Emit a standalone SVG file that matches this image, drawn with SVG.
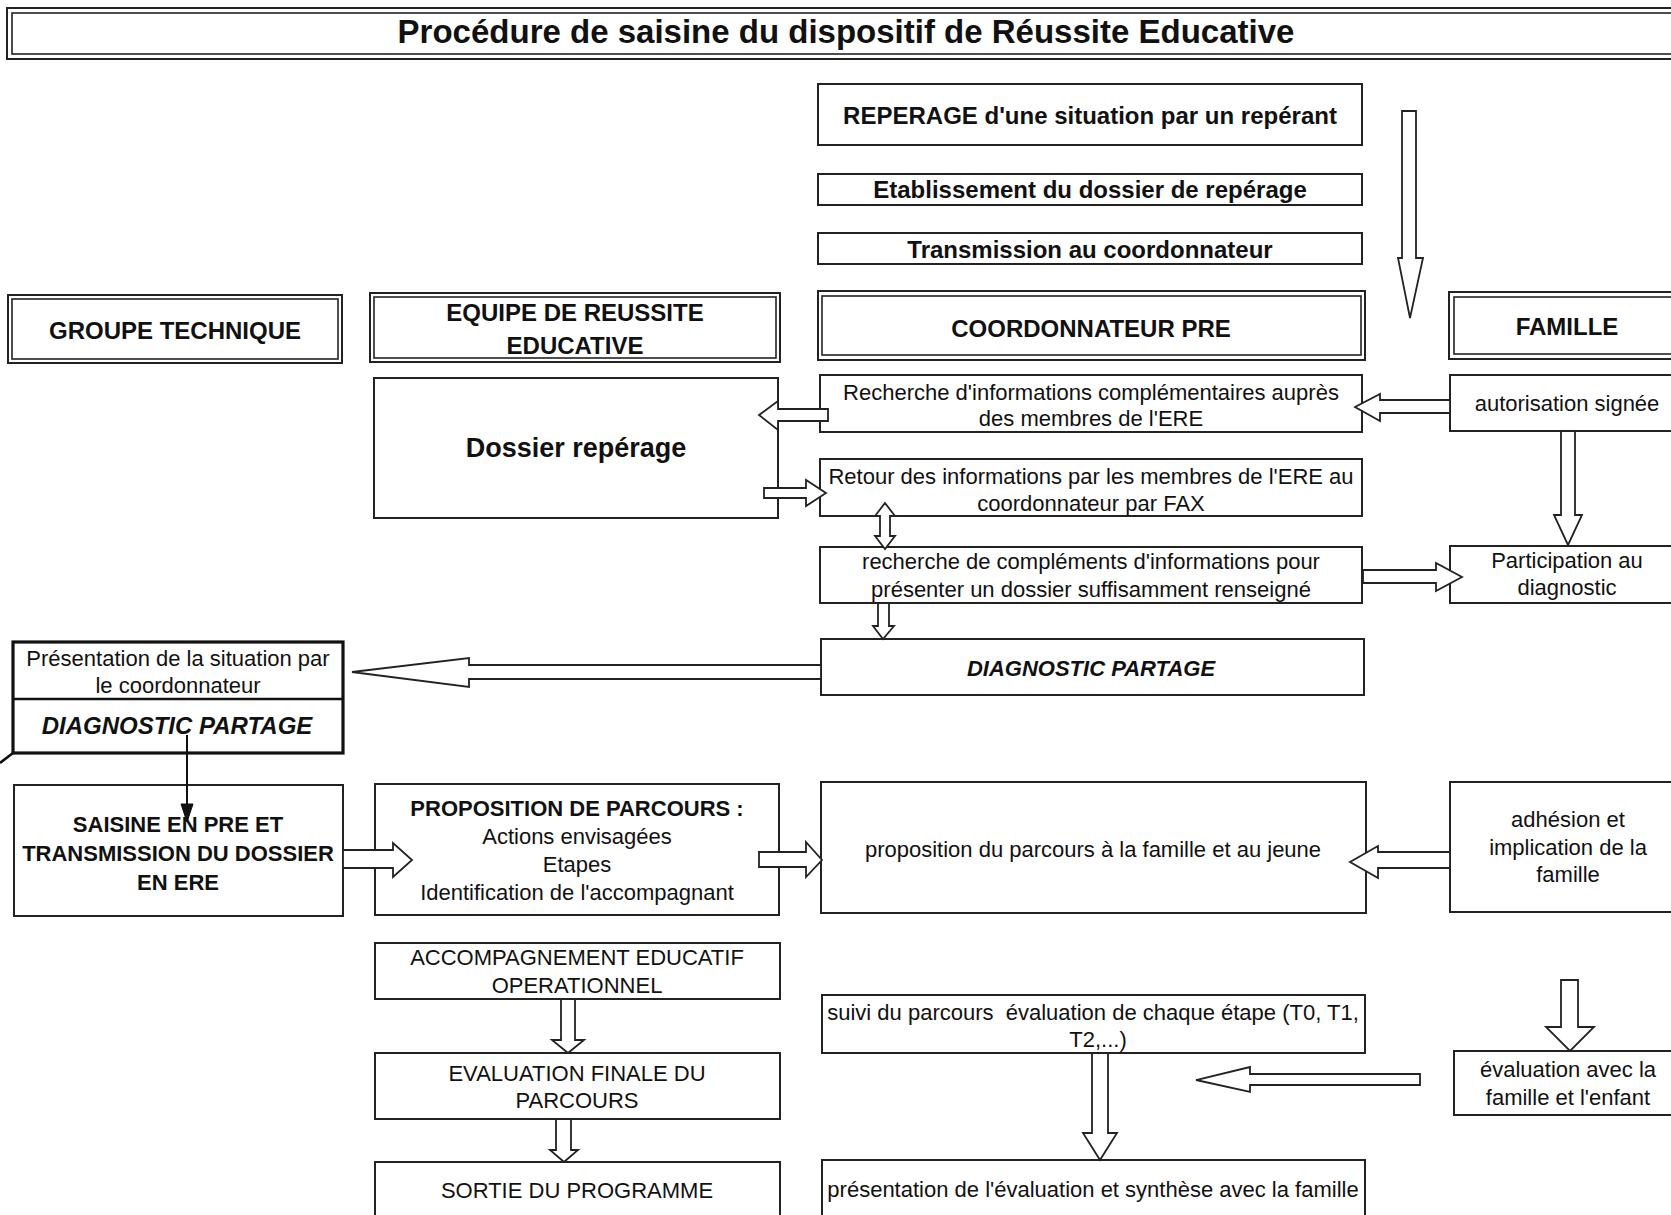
<svg xmlns="http://www.w3.org/2000/svg" width="1671" height="1215" viewBox="0 0 1671 1215">
<style>
.box{fill:#fff;stroke:#222;stroke-width:2}
.in{fill:none;stroke:#222;stroke-width:1.6}
.thick{fill:#fff;stroke:#111;stroke-width:3.2}
.arr{fill:#fff;stroke:#222;stroke-width:1.8;stroke-linejoin:miter}
.head{fill:#111;stroke:#111;stroke-width:1}
text{font-family:"Liberation Sans",Arial,Helvetica,sans-serif;font-size:22px;fill:#111;text-anchor:middle}
.b{font-weight:bold;font-size:24px}
.s22{font-weight:bold;font-size:22px}
.i{font-style:italic}
.pre{white-space:pre}
</style>
<rect width="1671" height="1215" fill="#fff"/>

<g id="title">
<rect class="box" x="7" y="8" width="1700" height="51"/>
<rect class="in" x="12" y="13" width="1690" height="41"/>
<text x="846" y="43" style="font-size:33px;font-weight:bold">Procédure de saisine du dispositif de Réussite Educative</text>
</g>

<g id="reperage">
<rect class="box" x="818" y="84" width="544" height="61"/>
<text class="b" x="1090" y="124">REPERAGE d'une situation par un repérant</text>
</g>
<g id="etablissement">
<rect class="box" x="818" y="174" width="544" height="31"/>
<text class="b" x="1090" y="198">Etablissement du dossier de repérage</text>
</g>
<g id="transmission">
<rect class="box" x="818" y="233" width="544" height="31"/>
<text class="b" x="1090" y="258">Transmission au coordonnateur</text>
</g>

<g id="hdr-groupe">
<rect class="box" x="8" y="295" width="334" height="68"/>
<rect class="in" x="12" y="299" width="326" height="60"/>
<text class="b" x="175" y="339">GROUPE TECHNIQUE</text>
</g>
<g id="hdr-equipe">
<rect class="box" x="370" y="293" width="410" height="69"/>
<rect class="in" x="374" y="297" width="402" height="61"/>
<text class="b" x="575" y="321">EQUIPE DE REUSSITE</text>
<text class="b" x="575" y="354">EDUCATIVE</text>
</g>
<g id="hdr-coord">
<rect class="box" x="818" y="291" width="547" height="69"/>
<rect class="in" x="822" y="296" width="539" height="59"/>
<text class="b" x="1091" y="337">COORDONNATEUR PRE</text>
</g>
<g id="hdr-famille">
<rect class="box" x="1449" y="292" width="240" height="67"/>
<rect class="in" x="1454" y="297" width="230" height="57"/>
<text class="b" x="1567" y="335">FAMILLE</text>
</g>

<g id="dossier">
<rect class="box" x="374" y="378" width="404" height="140"/>
<text x="576" y="457" style="font-weight:bold;font-size:27px">Dossier repérage</text>
</g>
<g id="recherche">
<rect class="box" x="820" y="375" width="542" height="57"/>
<text x="1091" y="400">Recherche d'informations complémentaires auprès</text>
<text x="1091" y="426">des membres de l'ERE</text>
</g>
<g id="autorisation">
<rect class="box" x="1450" y="375" width="240" height="56"/>
<text x="1567" y="411">autorisation signée</text>
</g>
<g id="retour">
<rect class="box" x="820" y="459" width="542" height="57"/>
<text x="1091" y="484">Retour des informations par les membres de l'ERE au</text>
<text x="1091" y="511">coordonnateur par FAX</text>
</g>
<g id="complements">
<rect class="box" x="820" y="547" width="542" height="56"/>
<text x="1091" y="569">recherche de compléments d'informations pour</text>
<text x="1091" y="597">présenter un dossier suffisamment renseigné</text>
</g>
<g id="participation">
<rect class="box" x="1450" y="546" width="240" height="57"/>
<text x="1567" y="568">Participation au</text>
<text x="1567" y="595">diagnostic</text>
</g>
<g id="diag-coord">
<rect class="box" x="821" y="639" width="543" height="56"/>
<text class="s22 i" x="1091" y="676">DIAGNOSTIC PARTAGE</text>
</g>

<g id="presentation-gt">
<rect class="thick" x="13" y="642" width="330" height="111"/>
<line x1="13" y1="699" x2="343" y2="699" stroke="#111" stroke-width="2.4"/>
<line x1="13" y1="753" x2="0" y2="763" stroke="#111" stroke-width="2.6"/>
<text x="178" y="666">Présentation de la situation par</text>
<text x="178" y="693">le coordonnateur</text>
<text class="b i" x="177" y="734">DIAGNOSTIC PARTAGE</text>
</g>

<g id="saisine">
<rect class="box" x="14" y="785" width="329" height="131"/>
<text class="s22" x="178" y="832">SAISINE EN PRE ET</text>
<text class="s22" x="178" y="861">TRANSMISSION DU DOSSIER</text>
<text class="s22" x="178" y="890">EN ERE</text>
</g>
<g id="proposition">
<rect class="box" x="375" y="784" width="404" height="131"/>
<text class="s22" x="577" y="816">PROPOSITION DE PARCOURS :</text>
<text x="577" y="844">Actions envisagées</text>
<text x="577" y="872">Etapes</text>
<text x="577" y="900">Identification de l'accompagnant</text>
</g>
<g id="proposition-famille">
<rect class="box" x="821" y="782" width="545" height="131"/>
<text x="1093" y="857">proposition du parcours à la famille et au jeune</text>
</g>
<g id="adhesion">
<rect class="box" x="1450" y="782" width="240" height="130"/>
<text x="1568" y="827">adhésion et</text>
<text x="1568" y="855">implication de la</text>
<text x="1568" y="882">famille</text>
</g>

<g id="accompagnement">
<rect class="box" x="375" y="943" width="405" height="56"/>
<text x="577" y="965">ACCOMPAGNEMENT EDUCATIF</text>
<text x="577" y="993">OPERATIONNEL</text>
</g>
<g id="evaluation-finale">
<rect class="box" x="375" y="1053" width="405" height="66"/>
<text x="577" y="1081">EVALUATION FINALE DU</text>
<text x="577" y="1108">PARCOURS</text>
</g>
<g id="sortie">
<rect class="box" x="375" y="1162" width="405" height="70"/>
<text x="577" y="1198">SORTIE DU PROGRAMME</text>
</g>
<g id="suivi">
<rect class="box" x="822" y="995" width="543" height="58"/>
<text class="pre" x="1093" y="1020">suivi du parcours  évaluation de chaque étape (T0, T1,</text>
<text x="1098" y="1047">T2,...)</text>
</g>
<g id="presentation-eval">
<rect class="box" x="822" y="1160" width="543" height="70"/>
<text x="1093" y="1197">présentation de l'évaluation et synthèse avec la famille</text>
</g>
<g id="evaluation-famille">
<rect class="box" x="1454" y="1051" width="236" height="64"/>
<text x="1568" y="1077">évaluation  avec la</text>
<text x="1568" y="1105">famille et l'enfant</text>
</g>

<g id="connectors">
<polygon class="arr" points="1402,111 1416,111 1416,258 1423,258 1410,318 1398,258 1402,258"/>
<polygon class="arr" points="828,409 778,409 778,401 759,415 778,430 778,421 828,421"/>
<polygon class="arr" points="764,488 806,488 806,480 826,493 806,506 806,498 764,498"/>
<polygon class="arr" points="885,503 895,516 890,516 890,536 895,536 885,549 875,536 880,536 880,516 875,516"/>
<polygon class="arr" points="878,603 889,603 889,626 894,626 883,639 873,626 878,626"/>
<polygon class="arr" points="1363,570 1436,570 1436,563 1462,577 1436,591 1436,583 1363,583"/>
<polygon class="arr" points="1450,400 1380,400 1380,394 1355,407 1380,421 1380,413 1450,413"/>
<polygon class="arr" points="1561,431 1575,431 1575,515 1582,515 1568,545 1554,515 1561,515"/>
<polygon class="arr" points="821,665 469,665 469,658 352,672 469,687 469,679 821,679"/>
<line x1="187" y1="735" x2="187" y2="806" stroke="#111" stroke-width="2"/>
<polygon class="head" points="181,804 193,804 187,822"/>
<polygon class="arr" points="343,850 393,850 393,843 412,860 393,877 393,868 343,868"/>
<polygon class="arr" points="759,852 806,852 806,842 822,860 806,877 806,867 759,867"/>
<polygon class="arr" points="1450,852 1378,852 1378,846 1350,862 1378,878 1378,868 1450,868"/>
<polygon class="arr" points="561,999 575,999 575,1040 584,1040 568,1053 552,1040 561,1040"/>
<polygon class="arr" points="556,1119 571,1119 571,1150 578,1150 564,1162 550,1150 556,1150"/>
<polygon class="arr" points="1092,1053 1108,1053 1108,1133 1117,1133 1100,1160 1083,1133 1092,1133"/>
<polygon class="arr" points="1420,1074 1250,1074 1250,1067 1196,1080 1250,1092 1250,1085 1420,1085"/>
<polygon class="arr" points="1561,980 1578,980 1578,1027 1594,1027 1570,1051 1546,1027 1561,1027"/>
</g>
</svg>
